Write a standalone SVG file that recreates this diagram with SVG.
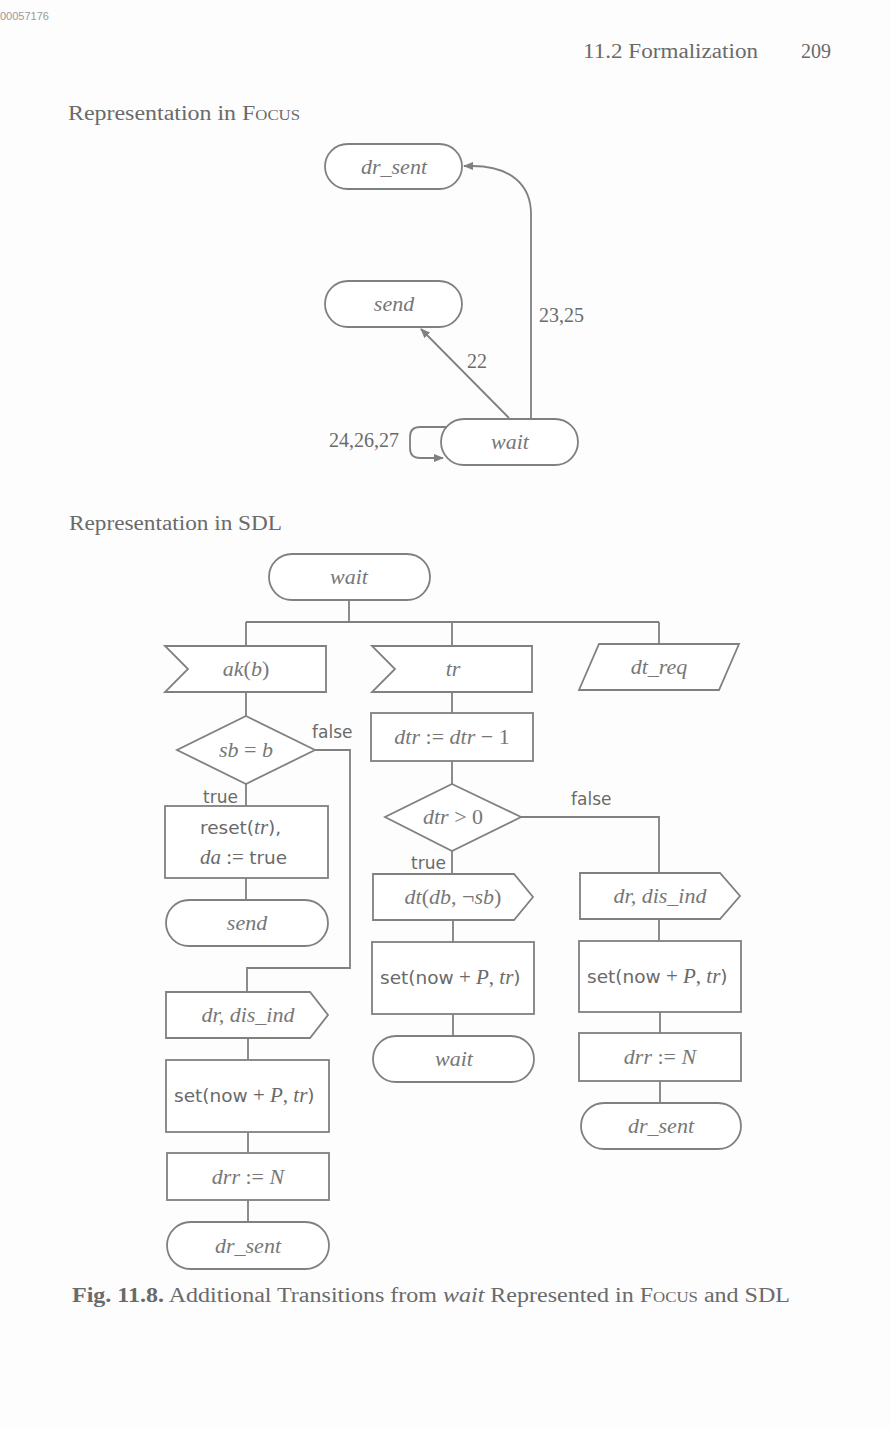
<svg xmlns="http://www.w3.org/2000/svg" width="891" height="1429" viewBox="0 0 891 1429">
<defs>
<style>
.s{fill:none;stroke:#808080;stroke-width:1.8}
.b{fill:#fff;stroke:#808080;stroke-width:1.8}
.t{font-family:"Liberation Serif",serif;font-size:22px;fill:#777;text-anchor:middle}
.i{font-style:italic}
.ss{font-family:"DejaVu Sans","Liberation Sans",sans-serif;font-size:17px;fill:#6a6a6a}
.sb{font-family:"DejaVu Sans","Liberation Sans",sans-serif;font-size:18.5px;fill:#6a6a6a}
.m{font-family:"Liberation Serif",serif;font-size:21px}
.h{font-family:"Liberation Serif",serif;font-size:20px;fill:#6a6a6a}
</style>
<marker id="ah" viewBox="0 0 10 10" refX="9" refY="5" markerWidth="10" markerHeight="10" markerUnits="userSpaceOnUse" orient="auto">
<path d="M0,1 L10,5 L0,9 z" fill="#808080"/>
</marker>
</defs>
<rect width="891" height="1429" fill="#fdfdfd"/>
<text x="0" y="20" font-family="Liberation Sans,sans-serif" font-size="11" fill="#999">00057176</text>
<text class="h" x="583" y="58" textLength="175" lengthAdjust="spacingAndGlyphs">11.2  Formalization</text>
<text class="h" x="801" y="58">209</text>
<text class="h" x="68" y="120" textLength="232" lengthAdjust="spacingAndGlyphs">Representation in <tspan font-variant="small-caps">Focus</tspan></text>

<g id="focus-connectors">
<path class="s" d="M531,418 V214 C531,186 512,166 472,166 L464,166" marker-end="url(#ah)"/>
<path class="s" d="M509,418 L421,329" marker-end="url(#ah)"/>
<path class="s" d="M448,427 H420 Q410,427 410,437 V448 Q410,458 420,458 H443" marker-end="url(#ah)"/>
<text class="h" x="539" y="322">23,25</text>
<text class="h" x="467" y="368">22</text>
<text class="h" x="329" y="447">24,26,27</text>
</g>
<g id="f-dr_sent"><rect class="b" x="325" y="144" width="137" height="45" rx="22.5"/><text class="t i" x="394" y="174">dr_sent</text></g>
<g id="f-send"><rect class="b" x="325" y="281" width="137" height="46" rx="23"/><text class="t i" x="394" y="311">send</text></g>
<g id="f-wait"><rect class="b" x="441" y="419" width="137" height="46" rx="23"/><text class="t i" x="510" y="449">wait</text></g>

<text class="h" x="69" y="530" textLength="213" lengthAdjust="spacingAndGlyphs">Representation in SDL</text>

<g id="sdl-connectors">
<path class="s" d="M349,600 V622 M246,622 H659 M246,622 V646 M452,622 V646 M659,622 V644"/>
<path class="s" d="M246,692 V716 M246,784 V806 M246,878 V900"/>
<path class="s" d="M315,750 H350 V968 H247 V992"/>
<path class="s" d="M248,1038 V1060 M248,1132 V1153 M248,1200 V1222"/>
<path class="s" d="M452,692 V713 M452,761 V784 M452,851 V874 M453,920 V942 M453,1014 V1036"/>
<path class="s" d="M521,817 H659 V873 M659,919 V941 M660,1012 V1033 M660,1081 V1103"/>
<text class="ss" x="312" y="738">false</text>
<text class="ss" x="203" y="803">true</text>
<text class="ss" x="571" y="805">false</text>
<text class="ss" x="411" y="869">true</text>
</g>

<g id="s-wait"><rect class="b" x="269" y="554" width="161" height="46" rx="23"/><text class="t i" x="349" y="584">wait</text></g>
<g id="s-ak"><path class="b" d="M165,646 H326 V692 H165 L188,669 Z"/><text class="t" x="246" y="676"><tspan class="i">ak</tspan>(<tspan class="i">b</tspan>)</text></g>
<g id="s-tr"><path class="b" d="M372,646 H532 V692 H372 L395,669 Z"/><text class="t i" x="453" y="676">tr</text></g>
<g id="s-dtreq"><path class="b" d="M599,644 H739 L719,690 H579 Z"/><text class="t i" x="659" y="674">dt_req</text></g>

<g id="s-sbb"><path class="b" d="M246,716 L315,750 L246,784 L177,750 Z"/><text class="t" x="246" y="757"><tspan class="i">sb</tspan> = <tspan class="i">b</tspan></text></g>
<g id="s-reset"><rect class="b" x="165" y="806" width="163" height="72"/>
<text class="sb" x="200" y="834">reset(<tspan class="m i">tr</tspan>),</text>
<text class="sb" x="200" y="864"><tspan class="m i">da</tspan><tspan class="m"> := </tspan>true</text></g>
<g id="s-send"><rect class="b" x="166" y="900" width="162" height="46" rx="23"/><text class="t i" x="247" y="930">send</text></g>
<g id="s-drdis1"><path class="b" d="M166,992 H310 L328,1015 L310,1038 H166 Z"/><text class="t i" x="248" y="1022">dr, dis_ind</text></g>
<g id="s-set1"><rect class="b" x="166" y="1060" width="163" height="72"/><text class="sb" x="174" y="1102">set(now<tspan class="m"> + </tspan><tspan class="m i">P</tspan><tspan class="m">, </tspan><tspan class="m i">tr</tspan>)</text></g>
<g id="s-drr1"><rect class="b" x="167" y="1153" width="162" height="47"/><text class="t i" x="248" y="1184">drr<tspan font-style="normal"> := </tspan>N</text></g>
<g id="s-drsent1"><rect class="b" x="167" y="1222" width="162" height="47" rx="23.5"/><text class="t i" x="248" y="1253">dr_sent</text></g>

<g id="s-dtr"><rect class="b" x="371" y="713" width="162" height="48"/><text class="t i" x="452" y="744">dtr<tspan font-style="normal"> := </tspan>dtr<tspan font-style="normal"> − 1</tspan></text></g>
<g id="s-dtrgt"><path class="b" d="M452,784 L521,817 L452,851 L385,817 Z"/><text class="t" x="453" y="824"><tspan class="i">dtr</tspan> &gt; 0</text></g>
<g id="s-dt"><path class="b" d="M373,874 H514 L533,897 L514,920 H373 Z"/><text class="t" x="453" y="904"><tspan class="i">dt</tspan>(<tspan class="i">db</tspan>, ¬<tspan class="i">sb</tspan>)</text></g>
<g id="s-set2"><rect class="b" x="372" y="942" width="162" height="72"/><text class="sb" x="380" y="984">set(now<tspan class="m"> + </tspan><tspan class="m i">P</tspan><tspan class="m">, </tspan><tspan class="m i">tr</tspan>)</text></g>
<g id="s-wait2"><rect class="b" x="373" y="1036" width="161" height="46" rx="23"/><text class="t i" x="454" y="1066">wait</text></g>

<g id="s-drdis2"><path class="b" d="M580,873 H720 L740,896 L720,919 H580 Z"/><text class="t i" x="660" y="903">dr, dis_ind</text></g>
<g id="s-set3"><rect class="b" x="579" y="941" width="162" height="71"/><text class="sb" x="587" y="983">set(now<tspan class="m"> + </tspan><tspan class="m i">P</tspan><tspan class="m">, </tspan><tspan class="m i">tr</tspan>)</text></g>
<g id="s-drr2"><rect class="b" x="579" y="1033" width="162" height="48"/><text class="t i" x="660" y="1064">drr<tspan font-style="normal"> := </tspan>N</text></g>
<g id="s-drsent2"><rect class="b" x="581" y="1103" width="160" height="46" rx="23"/><text class="t i" x="661" y="1133">dr_sent</text></g>

<text class="h" x="72" y="1302" textLength="718" lengthAdjust="spacingAndGlyphs"><tspan font-weight="bold">Fig. 11.8.</tspan> Additional Transitions from <tspan font-style="italic">wait</tspan> Represented in <tspan font-variant="small-caps">Focus</tspan> and SDL</text>
</svg>
